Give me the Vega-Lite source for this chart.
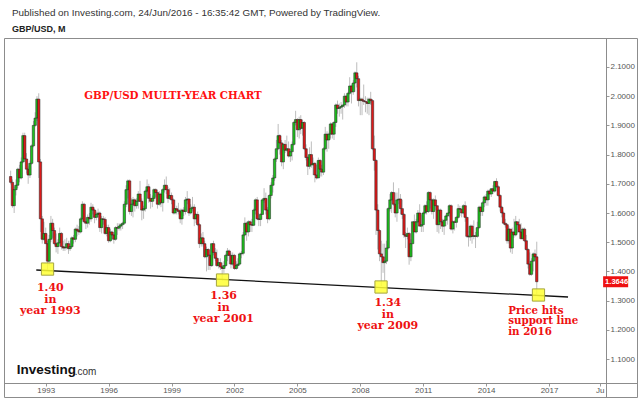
{
  "$schema": "https://vega.github.io/schema/vega-lite/v6.json",
  "width": 633,
  "height": 359,
  "autosize": {"type": "none"},
  "padding": {"left": 4, "top": 38, "right": 3, "bottom": 2},
  "background": "white",
  "config": {
    "view": {"stroke": "#8c8c8c", "strokeWidth": 1},
    "axis": {"grid": false, "labelOverlap": false},
    "axisY": {"labelOverlap": false},
    "axisQuantitative": {"labelOverlap": false}
  },
  "title": {
    "text": "Published on Investing.com, 24/Jun/2016 - 16:35:42 GMT, Powered by TradingView.",
    "subtitle": "GBP/USD, M",
    "anchor": "start",
    "frame": "group",
    "dx": 8,
    "offset": 4,
    "font": "Liberation Sans",
    "fontSize": 9.9,
    "fontWeight": "normal",
    "color": "#333333",
    "subtitleFont": "Liberation Sans",
    "subtitleFontSize": 9,
    "subtitleFontWeight": "bold",
    "subtitleColor": "#222222",
    "subtitlePadding": 7
  },
  "datasets": {
    "candles": [
      {"d":"1991-05-01","o":1.725,"h":1.745,"l":1.698,"c":1.705},
      {"d":"1991-06-01","o":1.705,"h":1.715,"l":1.618,"c":1.625},
      {"d":"1991-07-01","o":1.625,"h":1.69,"l":1.60,"c":1.68},
      {"d":"1991-08-01","o":1.68,"h":1.715,"l":1.66,"c":1.695},
      {"d":"1991-09-01","o":1.695,"h":1.755,"l":1.685,"c":1.75},
      {"d":"1991-10-01","o":1.75,"h":1.765,"l":1.705,"c":1.72},
      {"d":"1991-11-01","o":1.72,"h":1.79,"l":1.715,"c":1.775},
      {"d":"1991-12-01","o":1.775,"h":1.875,"l":1.77,"c":1.865},
      {"d":"1992-01-01","o":1.865,"h":1.875,"l":1.775,"c":1.785},
      {"d":"1992-02-01","o":1.785,"h":1.805,"l":1.735,"c":1.75},
      {"d":"1992-03-01","o":1.75,"h":1.76,"l":1.70,"c":1.73},
      {"d":"1992-04-01","o":1.73,"h":1.78,"l":1.72,"c":1.77},
      {"d":"1992-05-01","o":1.77,"h":1.835,"l":1.765,"c":1.83},
      {"d":"1992-06-01","o":1.83,"h":1.915,"l":1.825,"c":1.90},
      {"d":"1992-07-01","o":1.90,"h":1.945,"l":1.895,"c":1.925},
      {"d":"1992-08-01","o":1.925,"h":2.00,"l":1.915,"c":1.99},
      {"d":"1992-09-01","o":1.99,"h":2.01,"l":1.72,"c":1.775},
      {"d":"1992-10-01","o":1.775,"h":1.785,"l":1.535,"c":1.58},
      {"d":"1992-11-01","o":1.58,"h":1.59,"l":1.495,"c":1.51},
      {"d":"1992-12-01","o":1.51,"h":1.57,"l":1.505,"c":1.53},
      {"d":"1993-01-01","o":1.53,"h":1.55,"l":1.495,"c":1.495},
      {"d":"1993-02-01","o":1.495,"h":1.505,"l":1.4065,"c":1.435},
      {"d":"1993-03-01","o":1.435,"h":1.525,"l":1.42,"c":1.51},
      {"d":"1993-04-01","o":1.51,"h":1.59,"l":1.50,"c":1.565},
      {"d":"1993-05-01","o":1.565,"h":1.58,"l":1.515,"c":1.54},
      {"d":"1993-06-01","o":1.54,"h":1.55,"l":1.49,"c":1.495},
      {"d":"1993-07-01","o":1.495,"h":1.53,"l":1.465,"c":1.485},
      {"d":"1993-08-01","o":1.485,"h":1.51,"l":1.46,"c":1.498},
      {"d":"1993-09-01","o":1.498,"h":1.55,"l":1.495,"c":1.53},
      {"d":"1993-10-01","o":1.53,"h":1.535,"l":1.475,"c":1.485},
      {"d":"1993-11-01","o":1.485,"h":1.505,"l":1.47,"c":1.48},
      {"d":"1993-12-01","o":1.48,"h":1.51,"l":1.47,"c":1.482},
      {"d":"1994-01-01","o":1.482,"h":1.515,"l":1.475,"c":1.495},
      {"d":"1994-02-01","o":1.495,"h":1.505,"l":1.46,"c":1.478},
      {"d":"1994-03-01","o":1.478,"h":1.505,"l":1.47,"c":1.485},
      {"d":"1994-04-01","o":1.485,"h":1.52,"l":1.48,"c":1.515},
      {"d":"1994-05-01","o":1.515,"h":1.525,"l":1.495,"c":1.51},
      {"d":"1994-06-01","o":1.51,"h":1.55,"l":1.50,"c":1.545},
      {"d":"1994-07-01","o":1.545,"h":1.56,"l":1.52,"c":1.54},
      {"d":"1994-08-01","o":1.54,"h":1.555,"l":1.525,"c":1.535},
      {"d":"1994-09-01","o":1.535,"h":1.585,"l":1.53,"c":1.58},
      {"d":"1994-10-01","o":1.58,"h":1.64,"l":1.575,"c":1.63},
      {"d":"1994-11-01","o":1.63,"h":1.635,"l":1.565,"c":1.57},
      {"d":"1994-12-01","o":1.57,"h":1.585,"l":1.545,"c":1.565},
      {"d":"1995-01-01","o":1.565,"h":1.595,"l":1.55,"c":1.585},
      {"d":"1995-02-01","o":1.585,"h":1.60,"l":1.56,"c":1.58},
      {"d":"1995-03-01","o":1.58,"h":1.635,"l":1.57,"c":1.62},
      {"d":"1995-04-01","o":1.62,"h":1.63,"l":1.595,"c":1.61},
      {"d":"1995-05-01","o":1.61,"h":1.615,"l":1.565,"c":1.585},
      {"d":"1995-06-01","o":1.585,"h":1.605,"l":1.575,"c":1.595},
      {"d":"1995-07-01","o":1.595,"h":1.615,"l":1.585,"c":1.60},
      {"d":"1995-08-01","o":1.60,"h":1.605,"l":1.535,"c":1.55},
      {"d":"1995-09-01","o":1.55,"h":1.59,"l":1.53,"c":1.58},
      {"d":"1995-10-01","o":1.58,"h":1.59,"l":1.56,"c":1.578},
      {"d":"1995-11-01","o":1.578,"h":1.585,"l":1.525,"c":1.53},
      {"d":"1995-12-01","o":1.53,"h":1.56,"l":1.52,"c":1.55},
      {"d":"1996-01-01","o":1.55,"h":1.56,"l":1.498,"c":1.505},
      {"d":"1996-02-01","o":1.505,"h":1.545,"l":1.50,"c":1.535},
      {"d":"1996-03-01","o":1.535,"h":1.54,"l":1.51,"c":1.525},
      {"d":"1996-04-01","o":1.525,"h":1.53,"l":1.495,"c":1.51},
      {"d":"1996-05-01","o":1.51,"h":1.555,"l":1.505,"c":1.55},
      {"d":"1996-06-01","o":1.55,"h":1.565,"l":1.525,"c":1.548},
      {"d":"1996-07-01","o":1.548,"h":1.565,"l":1.54,"c":1.555},
      {"d":"1996-08-01","o":1.555,"h":1.565,"l":1.54,"c":1.56},
      {"d":"1996-09-01","o":1.56,"h":1.57,"l":1.545,"c":1.565},
      {"d":"1996-10-01","o":1.565,"h":1.64,"l":1.56,"c":1.63},
      {"d":"1996-11-01","o":1.63,"h":1.695,"l":1.62,"c":1.68},
      {"d":"1996-12-01","o":1.68,"h":1.715,"l":1.65,"c":1.71},
      {"d":"1997-01-01","o":1.71,"h":1.715,"l":1.595,"c":1.605},
      {"d":"1997-02-01","o":1.605,"h":1.65,"l":1.59,"c":1.63},
      {"d":"1997-03-01","o":1.63,"h":1.655,"l":1.585,"c":1.645},
      {"d":"1997-04-01","o":1.645,"h":1.65,"l":1.605,"c":1.625},
      {"d":"1997-05-01","o":1.625,"h":1.65,"l":1.615,"c":1.64},
      {"d":"1997-06-01","o":1.64,"h":1.675,"l":1.615,"c":1.665},
      {"d":"1997-07-01","o":1.665,"h":1.71,"l":1.645,"c":1.64},
      {"d":"1997-08-01","o":1.64,"h":1.65,"l":1.575,"c":1.61},
      {"d":"1997-09-01","o":1.61,"h":1.625,"l":1.58,"c":1.615},
      {"d":"1997-10-01","o":1.615,"h":1.68,"l":1.605,"c":1.675},
      {"d":"1997-11-01","o":1.675,"h":1.715,"l":1.67,"c":1.69},
      {"d":"1997-12-01","o":1.69,"h":1.70,"l":1.635,"c":1.65},
      {"d":"1998-01-01","o":1.65,"h":1.665,"l":1.615,"c":1.64},
      {"d":"1998-02-01","o":1.64,"h":1.66,"l":1.62,"c":1.65},
      {"d":"1998-03-01","o":1.65,"h":1.685,"l":1.64,"c":1.68},
      {"d":"1998-04-01","o":1.68,"h":1.685,"l":1.655,"c":1.67},
      {"d":"1998-05-01","o":1.67,"h":1.68,"l":1.615,"c":1.63},
      {"d":"1998-06-01","o":1.63,"h":1.675,"l":1.625,"c":1.665},
      {"d":"1998-07-01","o":1.665,"h":1.67,"l":1.62,"c":1.635},
      {"d":"1998-08-01","o":1.635,"h":1.685,"l":1.605,"c":1.68},
      {"d":"1998-09-01","o":1.68,"h":1.715,"l":1.67,"c":1.695},
      {"d":"1998-10-01","o":1.695,"h":1.725,"l":1.665,"c":1.68},
      {"d":"1998-11-01","o":1.68,"h":1.69,"l":1.635,"c":1.65},
      {"d":"1998-12-01","o":1.65,"h":1.685,"l":1.645,"c":1.66},
      {"d":"1999-01-01","o":1.66,"h":1.67,"l":1.63,"c":1.645},
      {"d":"1999-02-01","o":1.645,"h":1.65,"l":1.595,"c":1.60},
      {"d":"1999-03-01","o":1.60,"h":1.645,"l":1.595,"c":1.615},
      {"d":"1999-04-01","o":1.615,"h":1.625,"l":1.595,"c":1.61},
      {"d":"1999-05-01","o":1.61,"h":1.635,"l":1.595,"c":1.605},
      {"d":"1999-06-01","o":1.605,"h":1.615,"l":1.565,"c":1.58},
      {"d":"1999-07-01","o":1.58,"h":1.615,"l":1.56,"c":1.61},
      {"d":"1999-08-01","o":1.61,"h":1.62,"l":1.59,"c":1.605},
      {"d":"1999-09-01","o":1.605,"h":1.655,"l":1.595,"c":1.645},
      {"d":"1999-10-01","o":1.645,"h":1.675,"l":1.63,"c":1.648},
      {"d":"1999-11-01","o":1.648,"h":1.65,"l":1.59,"c":1.60},
      {"d":"1999-12-01","o":1.60,"h":1.63,"l":1.595,"c":1.615},
      {"d":"2000-01-01","o":1.615,"h":1.655,"l":1.605,"c":1.62},
      {"d":"2000-02-01","o":1.62,"h":1.63,"l":1.555,"c":1.58},
      {"d":"2000-03-01","o":1.58,"h":1.60,"l":1.565,"c":1.595},
      {"d":"2000-04-01","o":1.595,"h":1.605,"l":1.555,"c":1.56},
      {"d":"2000-05-01","o":1.56,"h":1.565,"l":1.48,"c":1.495},
      {"d":"2000-06-01","o":1.495,"h":1.53,"l":1.485,"c":1.515},
      {"d":"2000-07-01","o":1.515,"h":1.535,"l":1.485,"c":1.495},
      {"d":"2000-08-01","o":1.495,"h":1.505,"l":1.445,"c":1.45},
      {"d":"2000-09-01","o":1.45,"h":1.485,"l":1.40,"c":1.475},
      {"d":"2000-10-01","o":1.475,"h":1.48,"l":1.405,"c":1.455},
      {"d":"2000-11-01","o":1.455,"h":1.46,"l":1.405,"c":1.42},
      {"d":"2000-12-01","o":1.42,"h":1.495,"l":1.415,"c":1.495},
      {"d":"2001-01-01","o":1.495,"h":1.505,"l":1.455,"c":1.465},
      {"d":"2001-02-01","o":1.465,"h":1.48,"l":1.435,"c":1.445},
      {"d":"2001-03-01","o":1.445,"h":1.475,"l":1.415,"c":1.42},
      {"d":"2001-04-01","o":1.42,"h":1.445,"l":1.41,"c":1.43},
      {"d":"2001-05-01","o":1.43,"h":1.445,"l":1.405,"c":1.415},
      {"d":"2001-06-01","o":1.415,"h":1.43,"l":1.3686,"c":1.41},
      {"d":"2001-07-01","o":1.41,"h":1.435,"l":1.395,"c":1.42},
      {"d":"2001-08-01","o":1.42,"h":1.46,"l":1.415,"c":1.455},
      {"d":"2001-09-01","o":1.455,"h":1.48,"l":1.435,"c":1.47},
      {"d":"2001-10-01","o":1.47,"h":1.475,"l":1.425,"c":1.455},
      {"d":"2001-11-01","o":1.455,"h":1.465,"l":1.41,"c":1.425},
      {"d":"2001-12-01","o":1.425,"h":1.465,"l":1.42,"c":1.455},
      {"d":"2002-01-01","o":1.455,"h":1.46,"l":1.405,"c":1.41},
      {"d":"2002-02-01","o":1.41,"h":1.435,"l":1.405,"c":1.42},
      {"d":"2002-03-01","o":1.42,"h":1.445,"l":1.41,"c":1.425},
      {"d":"2002-04-01","o":1.425,"h":1.465,"l":1.42,"c":1.46},
      {"d":"2002-05-01","o":1.46,"h":1.47,"l":1.445,"c":1.462},
      {"d":"2002-06-01","o":1.462,"h":1.535,"l":1.455,"c":1.525},
      {"d":"2002-07-01","o":1.525,"h":1.585,"l":1.52,"c":1.565},
      {"d":"2002-08-01","o":1.565,"h":1.57,"l":1.505,"c":1.535},
      {"d":"2002-09-01","o":1.535,"h":1.575,"l":1.52,"c":1.57},
      {"d":"2002-10-01","o":1.57,"h":1.575,"l":1.535,"c":1.56},
      {"d":"2002-11-01","o":1.56,"h":1.58,"l":1.535,"c":1.558},
      {"d":"2002-12-01","o":1.558,"h":1.615,"l":1.555,"c":1.61},
      {"d":"2003-01-01","o":1.61,"h":1.65,"l":1.595,"c":1.645},
      {"d":"2003-02-01","o":1.645,"h":1.655,"l":1.575,"c":1.58},
      {"d":"2003-03-01","o":1.58,"h":1.60,"l":1.555,"c":1.578},
      {"d":"2003-04-01","o":1.578,"h":1.60,"l":1.555,"c":1.595},
      {"d":"2003-05-01","o":1.595,"h":1.65,"l":1.595,"c":1.645},
      {"d":"2003-06-01","o":1.645,"h":1.685,"l":1.635,"c":1.65},
      {"d":"2003-07-01","o":1.65,"h":1.67,"l":1.595,"c":1.61},
      {"d":"2003-08-01","o":1.61,"h":1.62,"l":1.565,"c":1.58},
      {"d":"2003-09-01","o":1.58,"h":1.665,"l":1.575,"c":1.66},
      {"d":"2003-10-01","o":1.66,"h":1.705,"l":1.65,"c":1.695},
      {"d":"2003-11-01","o":1.695,"h":1.73,"l":1.67,"c":1.72},
      {"d":"2003-12-01","o":1.72,"h":1.79,"l":1.71,"c":1.785},
      {"d":"2004-01-01","o":1.785,"h":1.85,"l":1.775,"c":1.82},
      {"d":"2004-02-01","o":1.82,"h":1.905,"l":1.815,"c":1.865},
      {"d":"2004-03-01","o":1.865,"h":1.87,"l":1.80,"c":1.84},
      {"d":"2004-04-01","o":1.84,"h":1.85,"l":1.76,"c":1.775},
      {"d":"2004-05-01","o":1.775,"h":1.84,"l":1.75,"c":1.835},
      {"d":"2004-06-01","o":1.835,"h":1.85,"l":1.805,"c":1.815},
      {"d":"2004-07-01","o":1.815,"h":1.865,"l":1.81,"c":1.82},
      {"d":"2004-08-01","o":1.82,"h":1.845,"l":1.79,"c":1.795},
      {"d":"2004-09-01","o":1.795,"h":1.82,"l":1.775,"c":1.81},
      {"d":"2004-10-01","o":1.81,"h":1.845,"l":1.78,"c":1.835},
      {"d":"2004-11-01","o":1.835,"h":1.915,"l":1.83,"c":1.91},
      {"d":"2004-12-01","o":1.91,"h":1.95,"l":1.90,"c":1.92},
      {"d":"2005-01-01","o":1.92,"h":1.925,"l":1.86,"c":1.885},
      {"d":"2005-02-01","o":1.885,"h":1.93,"l":1.855,"c":1.92},
      {"d":"2005-03-01","o":1.92,"h":1.935,"l":1.87,"c":1.89},
      {"d":"2005-04-01","o":1.89,"h":1.92,"l":1.865,"c":1.91},
      {"d":"2005-05-01","o":1.91,"h":1.915,"l":1.815,"c":1.82},
      {"d":"2005-06-01","o":1.82,"h":1.835,"l":1.78,"c":1.79},
      {"d":"2005-07-01","o":1.79,"h":1.795,"l":1.73,"c":1.76},
      {"d":"2005-08-01","o":1.76,"h":1.825,"l":1.75,"c":1.80},
      {"d":"2005-09-01","o":1.80,"h":1.845,"l":1.755,"c":1.765},
      {"d":"2005-10-01","o":1.765,"h":1.79,"l":1.73,"c":1.77},
      {"d":"2005-11-01","o":1.77,"h":1.775,"l":1.705,"c":1.73},
      {"d":"2005-12-01","o":1.73,"h":1.765,"l":1.715,"c":1.72},
      {"d":"2006-01-01","o":1.72,"h":1.79,"l":1.72,"c":1.78},
      {"d":"2006-02-01","o":1.78,"h":1.785,"l":1.725,"c":1.75},
      {"d":"2006-03-01","o":1.75,"h":1.765,"l":1.725,"c":1.74},
      {"d":"2006-04-01","o":1.74,"h":1.825,"l":1.73,"c":1.82},
      {"d":"2006-05-01","o":1.82,"h":1.895,"l":1.815,"c":1.87},
      {"d":"2006-06-01","o":1.87,"h":1.88,"l":1.81,"c":1.85},
      {"d":"2006-07-01","o":1.85,"h":1.875,"l":1.82,"c":1.87},
      {"d":"2006-08-01","o":1.87,"h":1.91,"l":1.855,"c":1.905},
      {"d":"2006-09-01","o":1.905,"h":1.91,"l":1.855,"c":1.87},
      {"d":"2006-10-01","o":1.87,"h":1.915,"l":1.85,"c":1.91},
      {"d":"2006-11-01","o":1.91,"h":1.975,"l":1.895,"c":1.97},
      {"d":"2006-12-01","o":1.97,"h":1.985,"l":1.94,"c":1.958},
      {"d":"2007-01-01","o":1.958,"h":1.975,"l":1.93,"c":1.962},
      {"d":"2007-02-01","o":1.962,"h":1.98,"l":1.94,"c":1.965},
      {"d":"2007-03-01","o":1.965,"h":1.97,"l":1.92,"c":1.97},
      {"d":"2007-04-01","o":1.97,"h":2.01,"l":1.96,"c":2.00},
      {"d":"2007-05-01","o":2.00,"h":2.005,"l":1.965,"c":1.98},
      {"d":"2007-06-01","o":1.98,"h":2.015,"l":1.965,"c":2.01},
      {"d":"2007-07-01","o":2.01,"h":2.065,"l":2.005,"c":2.035},
      {"d":"2007-08-01","o":2.035,"h":2.04,"l":1.975,"c":2.015},
      {"d":"2007-09-01","o":2.015,"h":2.055,"l":2.005,"c":2.045},
      {"d":"2007-10-01","o":2.045,"h":2.085,"l":2.015,"c":2.08},
      {"d":"2007-11-01","o":2.08,"h":2.1161,"l":2.03,"c":2.06},
      {"d":"2007-12-01","o":2.06,"h":2.07,"l":1.965,"c":1.985},
      {"d":"2008-01-01","o":1.985,"h":1.995,"l":1.935,"c":1.99},
      {"d":"2008-02-01","o":1.99,"h":1.995,"l":1.935,"c":1.985},
      {"d":"2008-03-01","o":1.985,"h":2.04,"l":1.97,"c":1.982},
      {"d":"2008-04-01","o":1.982,"h":2.00,"l":1.945,"c":1.98},
      {"d":"2008-05-01","o":1.98,"h":1.995,"l":1.94,"c":1.975},
      {"d":"2008-06-01","o":1.975,"h":1.995,"l":1.935,"c":1.99},
      {"d":"2008-07-01","o":1.99,"h":2.015,"l":1.97,"c":1.985},
      {"d":"2008-08-01","o":1.985,"h":1.99,"l":1.815,"c":1.82},
      {"d":"2008-09-01","o":1.82,"h":1.865,"l":1.745,"c":1.78},
      {"d":"2008-10-01","o":1.78,"h":1.785,"l":1.525,"c":1.61},
      {"d":"2008-11-01","o":1.61,"h":1.63,"l":1.475,"c":1.54},
      {"d":"2008-12-01","o":1.54,"h":1.545,"l":1.435,"c":1.46},
      {"d":"2009-01-01","o":1.46,"h":1.505,"l":1.3503,"c":1.45},
      {"d":"2009-02-01","o":1.45,"h":1.495,"l":1.395,"c":1.43},
      {"d":"2009-03-01","o":1.43,"h":1.495,"l":1.366,"c":1.435},
      {"d":"2009-04-01","o":1.435,"h":1.505,"l":1.425,"c":1.48},
      {"d":"2009-05-01","o":1.48,"h":1.62,"l":1.475,"c":1.615},
      {"d":"2009-06-01","o":1.615,"h":1.665,"l":1.605,"c":1.645},
      {"d":"2009-07-01","o":1.645,"h":1.675,"l":1.60,"c":1.67},
      {"d":"2009-08-01","o":1.67,"h":1.705,"l":1.625,"c":1.63},
      {"d":"2009-09-01","o":1.63,"h":1.67,"l":1.585,"c":1.60},
      {"d":"2009-10-01","o":1.60,"h":1.67,"l":1.57,"c":1.645},
      {"d":"2009-11-01","o":1.645,"h":1.685,"l":1.63,"c":1.648},
      {"d":"2009-12-01","o":1.648,"h":1.665,"l":1.595,"c":1.615},
      {"d":"2010-01-01","o":1.615,"h":1.645,"l":1.58,"c":1.595},
      {"d":"2010-02-01","o":1.595,"h":1.60,"l":1.515,"c":1.525},
      {"d":"2010-03-01","o":1.525,"h":1.535,"l":1.48,"c":1.52},
      {"d":"2010-04-01","o":1.52,"h":1.55,"l":1.51,"c":1.53},
      {"d":"2010-05-01","o":1.53,"h":1.535,"l":1.423,"c":1.45},
      {"d":"2010-06-01","o":1.45,"h":1.51,"l":1.435,"c":1.495},
      {"d":"2010-07-01","o":1.495,"h":1.57,"l":1.495,"c":1.57},
      {"d":"2010-08-01","o":1.57,"h":1.595,"l":1.535,"c":1.535},
      {"d":"2010-09-01","o":1.535,"h":1.58,"l":1.53,"c":1.57},
      {"d":"2010-10-01","o":1.57,"h":1.61,"l":1.565,"c":1.60},
      {"d":"2010-11-01","o":1.60,"h":1.63,"l":1.555,"c":1.555},
      {"d":"2010-12-01","o":1.555,"h":1.595,"l":1.535,"c":1.56},
      {"d":"2011-01-01","o":1.56,"h":1.605,"l":1.535,"c":1.60},
      {"d":"2011-02-01","o":1.60,"h":1.63,"l":1.595,"c":1.625},
      {"d":"2011-03-01","o":1.625,"h":1.64,"l":1.595,"c":1.605},
      {"d":"2011-04-01","o":1.605,"h":1.675,"l":1.60,"c":1.67},
      {"d":"2011-05-01","o":1.67,"h":1.675,"l":1.615,"c":1.645},
      {"d":"2011-06-01","o":1.645,"h":1.65,"l":1.595,"c":1.605},
      {"d":"2011-07-01","o":1.605,"h":1.65,"l":1.58,"c":1.645},
      {"d":"2011-08-01","o":1.645,"h":1.66,"l":1.61,"c":1.625},
      {"d":"2011-09-01","o":1.625,"h":1.625,"l":1.535,"c":1.56},
      {"d":"2011-10-01","o":1.56,"h":1.615,"l":1.53,"c":1.61},
      {"d":"2011-11-01","o":1.61,"h":1.615,"l":1.545,"c":1.57},
      {"d":"2011-12-01","o":1.57,"h":1.58,"l":1.535,"c":1.555},
      {"d":"2012-01-01","o":1.555,"h":1.58,"l":1.525,"c":1.575},
      {"d":"2012-02-01","o":1.575,"h":1.595,"l":1.555,"c":1.59},
      {"d":"2012-03-01","o":1.59,"h":1.60,"l":1.56,"c":1.60},
      {"d":"2012-04-01","o":1.60,"h":1.63,"l":1.585,"c":1.625},
      {"d":"2012-05-01","o":1.625,"h":1.63,"l":1.54,"c":1.545},
      {"d":"2012-06-01","o":1.545,"h":1.575,"l":1.53,"c":1.57},
      {"d":"2012-07-01","o":1.57,"h":1.575,"l":1.54,"c":1.568},
      {"d":"2012-08-01","o":1.568,"h":1.59,"l":1.55,"c":1.585},
      {"d":"2012-09-01","o":1.585,"h":1.63,"l":1.58,"c":1.615},
      {"d":"2012-10-01","o":1.615,"h":1.625,"l":1.59,"c":1.613},
      {"d":"2012-11-01","o":1.613,"h":1.615,"l":1.585,"c":1.60},
      {"d":"2012-12-01","o":1.60,"h":1.63,"l":1.595,"c":1.625},
      {"d":"2013-01-01","o":1.625,"h":1.64,"l":1.57,"c":1.585},
      {"d":"2013-02-01","o":1.585,"h":1.585,"l":1.515,"c":1.52},
      {"d":"2013-03-01","o":1.52,"h":1.525,"l":1.485,"c":1.518},
      {"d":"2013-04-01","o":1.518,"h":1.56,"l":1.505,"c":1.555},
      {"d":"2013-05-01","o":1.555,"h":1.56,"l":1.495,"c":1.52},
      {"d":"2013-06-01","o":1.52,"h":1.575,"l":1.51,"c":1.522},
      {"d":"2013-07-01","o":1.522,"h":1.535,"l":1.48,"c":1.52},
      {"d":"2013-08-01","o":1.52,"h":1.57,"l":1.515,"c":1.55},
      {"d":"2013-09-01","o":1.55,"h":1.625,"l":1.545,"c":1.62},
      {"d":"2013-10-01","o":1.62,"h":1.625,"l":1.59,"c":1.605},
      {"d":"2013-11-01","o":1.605,"h":1.64,"l":1.59,"c":1.635},
      {"d":"2013-12-01","o":1.635,"h":1.66,"l":1.62,"c":1.655},
      {"d":"2014-01-01","o":1.655,"h":1.665,"l":1.625,"c":1.645},
      {"d":"2014-02-01","o":1.645,"h":1.68,"l":1.625,"c":1.675},
      {"d":"2014-03-01","o":1.675,"h":1.68,"l":1.645,"c":1.665},
      {"d":"2014-04-01","o":1.665,"h":1.685,"l":1.655,"c":1.683},
      {"d":"2014-05-01","o":1.683,"h":1.695,"l":1.665,"c":1.675},
      {"d":"2014-06-01","o":1.675,"h":1.71,"l":1.67,"c":1.708},
      {"d":"2014-07-01","o":1.708,"h":1.719,"l":1.685,"c":1.69},
      {"d":"2014-08-01","o":1.69,"h":1.695,"l":1.655,"c":1.66},
      {"d":"2014-09-01","o":1.66,"h":1.665,"l":1.605,"c":1.62},
      {"d":"2014-10-01","o":1.62,"h":1.625,"l":1.585,"c":1.60},
      {"d":"2014-11-01","o":1.60,"h":1.605,"l":1.56,"c":1.565},
      {"d":"2014-12-01","o":1.565,"h":1.58,"l":1.55,"c":1.56},
      {"d":"2015-01-01","o":1.56,"h":1.565,"l":1.495,"c":1.505},
      {"d":"2015-02-01","o":1.505,"h":1.555,"l":1.495,"c":1.545},
      {"d":"2015-03-01","o":1.545,"h":1.545,"l":1.465,"c":1.48},
      {"d":"2015-04-01","o":1.48,"h":1.55,"l":1.46,"c":1.535},
      {"d":"2015-05-01","o":1.535,"h":1.58,"l":1.515,"c":1.525},
      {"d":"2015-06-01","o":1.525,"h":1.59,"l":1.52,"c":1.57},
      {"d":"2015-07-01","o":1.57,"h":1.57,"l":1.53,"c":1.56},
      {"d":"2015-08-01","o":1.56,"h":1.58,"l":1.535,"c":1.535},
      {"d":"2015-09-01","o":1.535,"h":1.565,"l":1.51,"c":1.512},
      {"d":"2015-10-01","o":1.512,"h":1.55,"l":1.51,"c":1.545},
      {"d":"2015-11-01","o":1.545,"h":1.55,"l":1.50,"c":1.505},
      {"d":"2015-12-01","o":1.505,"h":1.525,"l":1.47,"c":1.475},
      {"d":"2016-01-01","o":1.475,"h":1.48,"l":1.41,"c":1.425},
      {"d":"2016-02-01","o":1.425,"h":1.465,"l":1.385,"c":1.39},
      {"d":"2016-03-01","o":1.39,"h":1.445,"l":1.385,"c":1.435},
      {"d":"2016-04-01","o":1.435,"h":1.465,"l":1.40,"c":1.46},
      {"d":"2016-05-01","o":1.46,"h":1.475,"l":1.435,"c":1.45},
      {"d":"2016-06-01","o":1.45,"h":1.5018,"l":1.3229,"c":1.3646}
    ],
    "support": [
      {"d":"1992-07-20","p":1.4048},
      {"d":"2017-11-28","p":1.3123}
    ],
    "boxes": [
      {"d":"1993-02-01","p":1.408},
      {"d":"2001-06-07","p":1.3705},
      {"d":"2008-12-28","p":1.3466},
      {"d":"2016-07-01","p":1.3192}
    ],
    "notes": [
      {"d":"1993-03-22","p":1.3637,"t":"1.40\nin\nyear 1993"},
      {"d":"2001-06-25","p":1.3363,"t":"1.36\nin\nyear 2001"},
      {"d":"2009-04-25","p":1.3123,"t":"1.34\nin\nyear 2009"}
    ],
    "notes2": [
      {"d":"2015-01-20","p":1.283,"t":"Price hits\nsupport line\nin 2016"}
    ],
    "header": [
      {"d":"1994-11-01","p":2.0007,"t":"GBP/USD MULTI-YEAR CHART"}
    ],
    "last": [
      {"p":1.3646,"t":"1.3646"}
    ],
    "logo": [
      {"d":"1991-08-15","p":1.062,"t":"Investing","t2":".com"}
    ]
  },
  "encoding": {
    "y": {
      "type": "quantitative",
      "scale": {"domain": [0.9699, 2.1993], "nice": false, "zero": false},
      "axis": {
        "orient": "right", "offset": -31, "title": null,
        "values": [1.1, 1.2, 1.3, 1.4, 1.5, 1.6, 1.7, 1.8, 1.9, 2.0, 2.1],
        "format": ".4f",
        "labelFont": "Liberation Sans", "labelFontSize": 8, "labelColor": "#555555",
        "labelPadding": 1, "tickSize": 3, "tickColor": "#999999",
        "domainColor": "#8c8c8c", "labelOverlap": false, "labelSeparation": 0
      }
    }
  },
  "layer": [
    {
      "data": {"name": "candles"},
      "mark": {"type": "rule", "color": "#bdbdbd", "strokeWidth": 1},
      "encoding": {
        "x": {
          "field": "d", "type": "temporal",
          "scale": {"type": "utc", "domain": [{"year":1991,"month":4,"date":2,"utc":true},{"year":2020,"month":12,"date":16,"utc":true}]},
          "axis": {
            "orient": "bottom", "offset": -14, "title": null,
            "values": [
              {"year":1993,"month":1,"date":1,"utc":true},
              {"year":1996,"month":1,"date":1,"utc":true},
              {"year":1999,"month":1,"date":1,"utc":true},
              {"year":2002,"month":1,"date":1,"utc":true},
              {"year":2005,"month":1,"date":1,"utc":true},
              {"year":2008,"month":1,"date":1,"utc":true},
              {"year":2011,"month":1,"date":1,"utc":true},
              {"year":2014,"month":1,"date":1,"utc":true},
              {"year":2017,"month":1,"date":1,"utc":true},
              {"year":2019,"month":6,"date":1,"utc":true}
            ],
            "labelExpr": "utcyear(datum.value) >= 2019 ? 'Ju' : utcFormat(datum.value, '%Y')",
            "labelFont": "Liberation Sans", "labelFontSize": 8, "labelColor": "#555555",
            "labelPadding": 0, "tickSize": 3, "tickColor": "#999999",
            "domainColor": "#8c8c8c", "labelFlush": false, "labelOverlap": false
          }
        },
        "y": {
          "field": "l", "type": "quantitative",
          "scale": {"domain": [0.9699, 2.1993], "nice": false, "zero": false},
          "axis": {
            "orient": "right", "offset": -31, "title": null,
            "values": [1.1, 1.2, 1.3, 1.4, 1.5, 1.6, 1.7, 1.8, 1.9, 2.0, 2.1],
            "format": ".4f",
            "labelFont": "Liberation Sans", "labelFontSize": 8, "labelColor": "#555555",
            "labelPadding": 1, "tickSize": 3, "tickColor": "#999999",
            "domainColor": "#8c8c8c", "labelOverlap": false, "labelSeparation": 0
          }
        },
        "y2": {"field": "h"}
      }
    },
    {
      "data": {"name": "candles"},
      "mark": {"type": "bar", "size": 2.4, "stroke": "#1e1e1e", "strokeWidth": 0.5},
      "encoding": {
        "x": {"field": "d", "type": "temporal"},
        "y": {"field": "o", "type": "quantitative"},
        "y2": {"field": "c"},
        "color": {"condition": {"test": "datum.c >= datum.o", "value": "#1fbf1f"}, "value": "#dd1a1a"}
      }
    },
    {
      "data": {"name": "support"},
      "mark": {"type": "line", "color": "#111111", "strokeWidth": 1.3},
      "encoding": {
        "x": {"field": "d", "type": "temporal"},
        "y": {"field": "p", "type": "quantitative"}
      }
    },
    {
      "data": {"name": "boxes"},
      "mark": {"type": "square", "size": 150, "filled": true, "color": "#ffff33", "fillOpacity": 0.85, "stroke": "#a6a640", "strokeWidth": 1, "opacity": 1},
      "encoding": {
        "x": {"field": "d", "type": "temporal"},
        "y": {"field": "p", "type": "quantitative"}
      }
    },
    {
      "data": {"name": "notes"},
      "mark": {"type": "text", "font": "DejaVu Serif", "fontWeight": "bold", "fontSize": 11, "color": "#ee1111", "align": "center", "baseline": "top", "lineBreak": "\n", "lineHeight": 11.5},
      "encoding": {
        "x": {"field": "d", "type": "temporal"},
        "y": {"field": "p", "type": "quantitative"},
        "text": {"field": "t"}
      }
    },
    {
      "data": {"name": "notes2"},
      "mark": {"type": "text", "font": "DejaVu Serif", "fontWeight": "bold", "fontSize": 10.3, "color": "#ee1111", "align": "left", "baseline": "top", "lineBreak": "\n", "lineHeight": 10.8},
      "encoding": {
        "x": {"field": "d", "type": "temporal"},
        "y": {"field": "p", "type": "quantitative"},
        "text": {"field": "t"}
      }
    },
    {
      "data": {"name": "header"},
      "mark": {"type": "text", "font": "DejaVu Serif", "fontWeight": "bold", "fontSize": 10.3, "color": "#ff1111", "align": "left", "baseline": "middle"},
      "encoding": {
        "x": {"field": "d", "type": "temporal"},
        "y": {"field": "p", "type": "quantitative"},
        "text": {"field": "t"}
      }
    },
    {
      "data": {"name": "last"},
      "mark": {"type": "rect", "color": "#ee1111", "height": 11},
      "encoding": {
        "x": {"datum": {"year":2019,"month":8,"date":1,"utc":true}, "type": "temporal"},
        "x2": {"datum": {"year":2020,"month":10,"date":10,"utc":true}},
        "y": {"field": "p", "type": "quantitative"}
      }
    },
    {
      "data": {"name": "last"},
      "mark": {"type": "text", "color": "white", "font": "Liberation Sans", "fontWeight": "bold", "fontSize": 7.5, "align": "left", "baseline": "middle", "dx": 2},
      "encoding": {
        "x": {"datum": {"year":2019,"month":8,"date":1,"utc":true}, "type": "temporal"},
        "y": {"field": "p", "type": "quantitative"},
        "text": {"field": "t"}
      }
    },
    {
      "data": {"name": "logo"},
      "mark": {"type": "text", "color": "#111111", "font": "Liberation Sans", "fontWeight": "bold", "fontSize": 13.5, "align": "left", "baseline": "middle", "letterSpacing": -0.3},
      "encoding": {
        "x": {"field": "d", "type": "temporal"},
        "y": {"field": "p", "type": "quantitative"},
        "text": {"field": "t"}
      }
    },
    {
      "data": {"name": "logo"},
      "mark": {"type": "text", "color": "#333333", "font": "Liberation Sans", "fontSize": 10, "align": "left", "baseline": "middle", "dx": 58, "dy": 2},
      "encoding": {
        "x": {"field": "d", "type": "temporal"},
        "y": {"field": "p", "type": "quantitative"},
        "text": {"field": "t2"}
      }
    }
  ]
}
